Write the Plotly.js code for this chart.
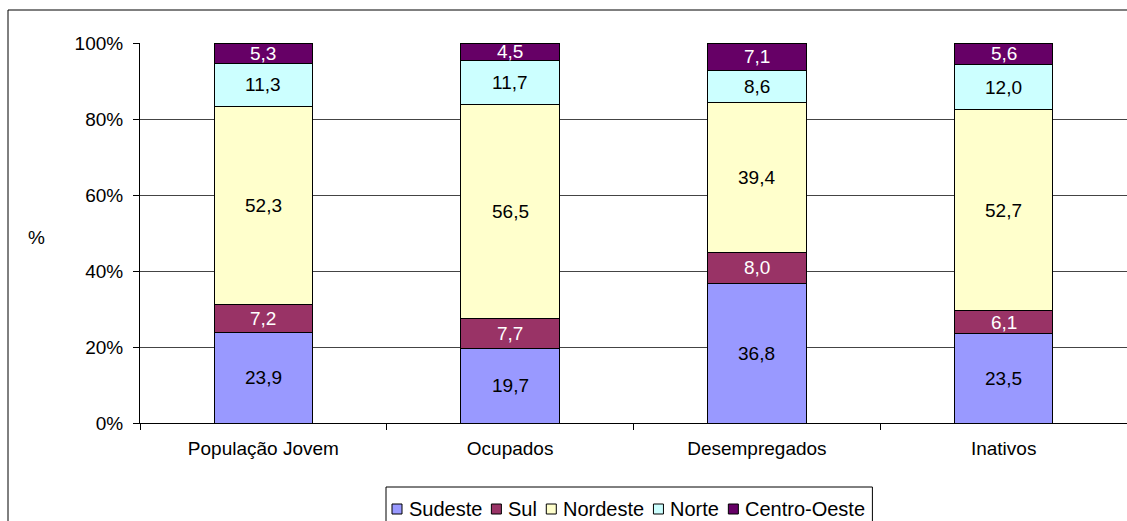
<!DOCTYPE html>
<html>
<head>
<meta charset="utf-8">
<script src="https://cdn.plot.ly/plotly-3.0.1.min.js"></script>
<style>
  html, body { margin: 0; padding: 0; background: #fff; }
  #chart { width: 1127px; height: 521px; }
</style>
</head>
<body>
<div id="chart"></div>
<script>
// Distribuição regional (%) por condição de atividade
const categories = ['População Jovem', 'Ocupados', 'Desempregados', 'Inativos'];
const regions = ['Sudeste', 'Sul', 'Nordeste', 'Norte', 'Centro-Oeste'];
const sudeste = [23.9, 19.7, 36.8, 23.5];
const sul = [7.2, 7.7, 8.0, 6.1];
const nordeste = [52.3, 56.5, 39.4, 52.7];
const norte = [11.3, 11.7, 8.6, 12.0];
const centroOeste = [5.3, 4.5, 7.1, 5.6];
const yTicks = [0, 20, 40, 60, 80, 100];

const seriesValues = [sudeste, sul, nordeste, norte, centroOeste];
const fillColors = ['#9999FF', '#993366', '#FFFFCC', '#CCFFFF', '#660066'];
const labelColors = ['#000000', '#FFFFFF', '#000000', '#000000', '#FFFFFF'];

const fmt = v => v.toFixed(1).replace('.', ',');
const FONT = 'Liberation Sans, Arial, sans-serif';
const FS = 19;
const LEG_FS = 20;

// plot area geometry in pixels, used to place frame and legend
const W = 1127, H = 521, L = 140, T = 43, B = 98, R = 0;
const PW = W - L - R, PH = H - T - B;
const px = X => (X - L) / PW;
const py = Y => (H - B - Y) / PH;

const traces = regions.map((name, i) => ({
  type: 'bar',
  name: name,
  x: categories,
  y: seriesValues[i],
  width: 0.4,
  marker: { color: fillColors[i], line: { color: '#000000', width: 1 } },
  hoverinfo: 'skip',
  showlegend: false
}));

// value labels centred in each segment (stack normalised to 100%)
const annotations = [];
categories.forEach((cat, c) => {
  const total = seriesValues.reduce((s, arr) => s + arr[c], 0);
  let base = 0;
  seriesValues.forEach((arr, i) => {
    const h = arr[c] / total * 100;
    annotations.push({
      x: cat, y: base + h / 2, xref: 'x', yref: 'y',
      text: fmt(arr[c]), showarrow: false,
      font: { family: FONT, size: FS, color: labelColors[i] },
      yanchor: 'middle', xanchor: 'center'
    });
    base += h;
  });
});

// y-axis caption, horizontal
annotations.push({
  x: px(36), y: py(238), xref: 'paper', yref: 'paper',
  text: '%', showarrow: false, xanchor: 'center', yanchor: 'middle',
  font: { family: FONT, size: FS, color: '#000000' }
});

// chart frame (top and left edges visible)
const shapes = [
  { type: 'line', xref: 'paper', yref: 'paper', x0: px(8), x1: px(W + 5), y0: py(10), y1: py(10),
    line: { color: '#000000', width: 1 } },
  { type: 'line', xref: 'paper', yref: 'paper', x0: px(8), x1: px(8), y0: py(10), y1: py(H + 5),
    line: { color: '#000000', width: 1 } }
];

// legend: small bordered swatches followed by series names
const ctx = document.createElement('canvas').getContext('2d');
ctx.font = LEG_FS + 'px "Liberation Sans"';
const boxLeft = 386, boxTop = 487, rowY = 509, sw = 10;
let cx = boxLeft + 6;
regions.forEach((name, i) => {
  shapes.push({
    type: 'rect', xref: 'paper', yref: 'paper',
    x0: px(cx), x1: px(cx + sw), y0: py(rowY - sw / 2), y1: py(rowY + sw / 2),
    fillcolor: fillColors[i], line: { color: '#000000', width: 1 }
  });
  const tx = cx + sw + 5;
  annotations.push({
    x: px(tx), y: py(rowY), xref: 'paper', yref: 'paper',
    text: name, showarrow: false, xanchor: 'left', yanchor: 'middle',
    font: { family: FONT, size: LEG_FS, color: '#000000' }
  });
  cx = tx + ctx.measureText(name).width + 11;
});
const boxRight = cx - 11 + 9;
shapes.push({
  type: 'rect', xref: 'paper', yref: 'paper',
  x0: px(boxLeft), x1: px(boxRight), y0: py(boxTop), y1: py(H + 10),
  fillcolor: 'rgba(0,0,0,0)', line: { color: '#000000', width: 1 }
});

const layout = {
  width: W, height: H,
  margin: { l: L, r: R, t: T, b: B, pad: 0 },
  paper_bgcolor: '#ffffff', plot_bgcolor: '#ffffff',
  barmode: 'stack', barnorm: 'percent',
  font: { family: FONT, size: FS, color: '#000000' },
  showlegend: false,
  xaxis: {
    type: 'category', showline: true, linecolor: '#000000', linewidth: 1,
    ticks: 'outside', tickson: 'boundaries', ticklen: 6, tickcolor: '#000000',
    ticklabelstandoff: 8,
    showgrid: false, zeroline: false, fixedrange: true,
    tickfont: { family: FONT, size: FS }
  },
  yaxis: {
    range: [0, 100], tickvals: yTicks, ticktext: yTicks.map(v => v + '%'),
    showline: true, linecolor: '#000000', linewidth: 1,
    ticks: 'outside', ticklen: 6, tickcolor: '#000000',
    ticklabelstandoff: 6,
    showgrid: true, gridcolor: '#444444', gridwidth: 1, zeroline: false,
    tickfont: { family: FONT, size: FS },
    fixedrange: true
  },
  annotations: annotations,
  shapes: shapes
};

Plotly.newPlot('chart', traces, layout, { displayModeBar: false, staticPlot: true });
</script>
</body>
</html>
